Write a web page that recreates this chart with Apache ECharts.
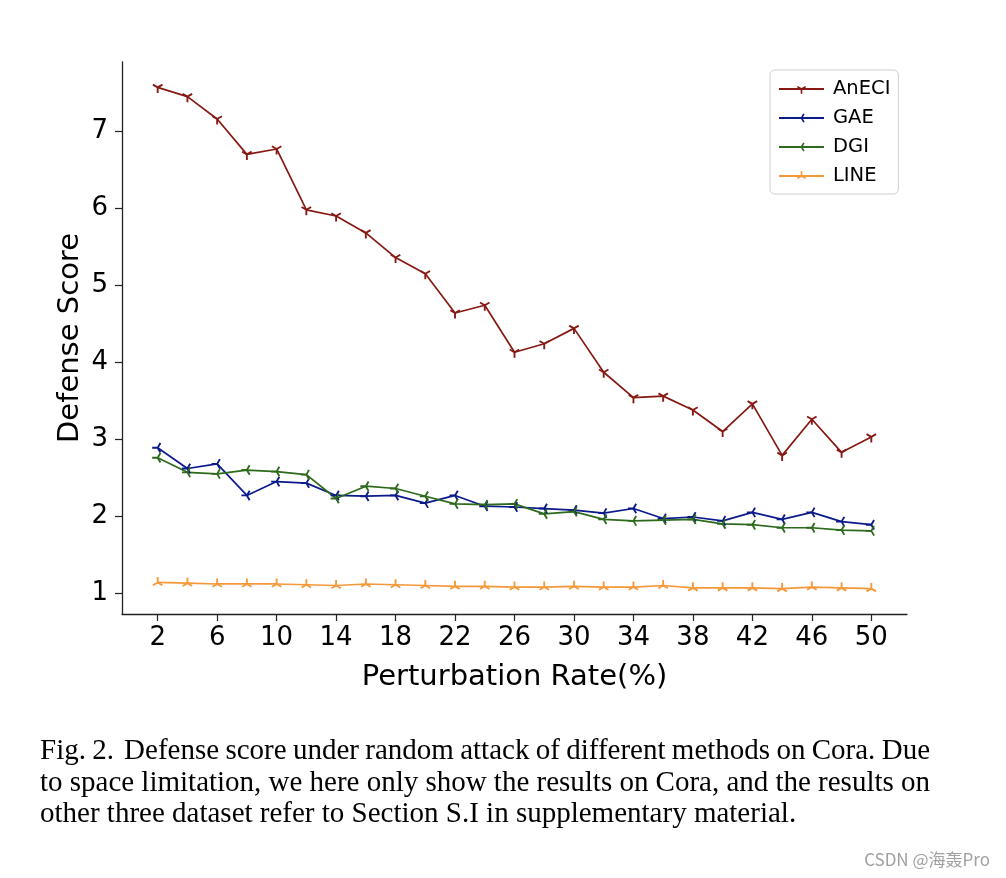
<!DOCTYPE html>
<html>
<head>
<meta charset="utf-8">
<script src="https://cdn.jsdelivr.net/npm/echarts@6/dist/echarts.min.js"></script>
<style>
html,body{margin:0;padding:0;background:#fff;}
#chart{width:1006px;height:878px;}
</style>
</head>
<body>
<div id="chart"></div>
<script>
// ---- data ----
var rates = [2,4,6,8,10,12,14,16,18,20,22,24,26,28,30,32,34,36,38,40,42,44,46,48,50];
var aneci = [7.57,7.45,7.16,6.70,6.77,5.98,5.90,5.68,5.36,5.15,4.64,4.74,4.13,4.24,4.44,3.87,3.54,3.56,3.38,3.10,3.46,2.79,3.26,2.83,3.03];
var gae   = [2.89,2.62,2.68,2.27,2.45,2.43,2.27,2.26,2.27,2.17,2.27,2.13,2.12,2.10,2.08,2.04,2.10,1.97,1.99,1.94,2.05,1.96,2.05,1.93,1.89];
var dgi   = [2.76,2.57,2.55,2.60,2.58,2.54,2.23,2.39,2.36,2.26,2.16,2.15,2.16,2.03,2.06,1.96,1.94,1.95,1.96,1.90,1.89,1.85,1.85,1.82,1.81];
var line  = [1.14,1.13,1.12,1.12,1.12,1.11,1.10,1.12,1.11,1.10,1.09,1.09,1.08,1.08,1.09,1.08,1.08,1.10,1.07,1.07,1.07,1.06,1.08,1.07,1.06];
var seriesNames = ['AnECI','GAE','DGI','LINE'];
var xTicks = [2,6,10,14,18,22,26,30,34,38,42,46,50];
var yTicks = [1,2,3,4,5,6,7];
var captionLines = [
  'Fig. 2.  Defense score under random attack of different methods on Cora. Due',
  'to space limitation, we here only show the results on Cora, and the results on',
  'other three dataset refer to Section S.I in supplementary material.'
];

// ---- marker shapes (matplotlib-like tri markers) ----
function triPath(dirs){
  var w = 0.17, s = '';
  dirs.forEach(function(d){
    var dx = d[0], dy = d[1], nx = -dy*w, ny = dx*w;
    s += 'M'+nx.toFixed(3)+' '+ny.toFixed(3)+
         'L'+(dx+nx).toFixed(3)+' '+(dy+ny).toFixed(3)+
         'L'+(dx-nx).toFixed(3)+' '+(dy-ny).toFixed(3)+
         'L'+(-nx).toFixed(3)+' '+(-ny).toFixed(3)+'Z';
  });
  s += 'M-1 -1L-1 -1ZM1 1L1 1Z';
  return 'path://' + s;
}
var c = 0.866;
var triDown = triPath([[0,1],[-c,-0.5],[c,-0.5]]);
var triLeft = triPath([[-1,0],[0.5,-c],[0.5,c]]);
var triUp   = triPath([[0,-1],[-c,0.5],[c,0.5]]);

var colors = ['#861a13','#0b1a8b','#2d6a1c','#f5983a'];
var symbols = [triDown, triLeft, triLeft, triUp];
var values = [aneci, gae, dgi, line];

function pairs(v){ return rates.map(function(r,i){ return [r, v[i]]; }); }

var series = seriesNames.map(function(n, k){
  return {
    name: n, type: 'line', data: pairs(values[k]),
    symbol: symbols[k], symbolSize: 11, showAllSymbol: true,
    lineStyle: {color: colors[k], width: 1.7},
    itemStyle: {color: colors[k]},
    emphasis: {disabled: true},
    animation: false
  };
});

// ---- caption (justified first two lines, like the paper) ----
var capSize = 29, capLeft = 40, capWidth = 890, capTop = 737, capStep = 31.5;
var ctx = document.createElement('canvas').getContext('2d');
ctx.font = capSize + 'px "Liberation Serif"';
var captionGraphics = [];
captionLines.forEach(function(t, i){
  var y = capTop + i*capStep;
  if (i < captionLines.length - 1) {
    var tokens = t.split(' ');
    var words = [], gapsBefore = [], extra = 0;
    tokens.forEach(function(tk){
      if (tk === '') { extra += 0.6; return; }
      gapsBefore.push(words.length ? 1 + extra : 0);
      words.push(tk); extra = 0;
    });
    var widths = words.map(function(w){ return ctx.measureText(w).width; });
    var total = widths.reduce(function(a,b){ return a+b; }, 0);
    var units = gapsBefore.reduce(function(a,b){ return a+b; }, 0);
    var gap = (capWidth - total) / units;
    var x = capLeft;
    words.forEach(function(w, j){
      x += gapsBefore[j] * gap;
      captionGraphics.push({type:'text', x: x, y: y,
        style:{text: w, fontFamily:'Liberation Serif', fontSize: capSize, fill:'#000'}});
      x += widths[j];
    });
  } else {
    captionGraphics.push({type:'text', x: capLeft, y: y,
      style:{text: t, fontFamily:'Liberation Serif', fontSize: capSize, fill:'#000'}});
  }
});

var chart = echarts.init(document.getElementById('chart'), null, {renderer:'canvas'});
chart.setOption({
  backgroundColor: '#fff',
  animation: false,
  grid: {left: 122, right: 99, top: 62, bottom: 264, containLabel: false},
  xAxis: {
    type: 'value', min: -0.4, max: 52.4,
    name: 'Perturbation Rate(%)', nameLocation: 'middle', nameGap: 49, nameMoveOverlap: false,
    nameTextStyle: {fontFamily: 'DejaVu Sans', fontSize: 29, color: '#000'},
    axisLine: {onZero: false, lineStyle: {color: '#222', width: 1.3}},
    axisTick: {show: true, length: 7, customValues: xTicks, lineStyle: {color: '#222', width: 1.2}},
    axisLabel: {customValues: xTicks, margin: 11, fontFamily: 'DejaVu Sans', fontSize: 26, color: '#000'},
    splitLine: {show: false}
  },
  yAxis: {
    type: 'value', min: 0.73, max: 7.9,
    name: 'Defense Score', nameLocation: 'middle', nameGap: 37, nameRotate: 90, nameMoveOverlap: false,
    nameTextStyle: {fontFamily: 'DejaVu Sans', fontSize: 29, color: '#000'},
    axisLine: {show: true, onZero: false, lineStyle: {color: '#222', width: 1.3}},
    axisTick: {show: true, length: 7, customValues: yTicks, lineStyle: {color: '#222', width: 1.2}},
    axisLabel: {customValues: yTicks, margin: 14, fontFamily: 'DejaVu Sans', fontSize: 26, color: '#000'},
    splitLine: {show: false}
  },
  legend: {
    orient: 'vertical', left: 770, top: 70,
    data: seriesNames,
    itemWidth: 45, itemHeight: 12, itemGap: 9,
    padding: [9, 8, 8, 8],
    borderColor: '#d0d0d0', borderWidth: 1, borderRadius: 5,
    backgroundColor: 'rgba(255,255,255,0.8)',
    textStyle: {fontFamily: 'DejaVu Sans', fontSize: 19.5, color: '#000', lineHeight: 19.5, padding: [0,0,0,4]},
    selectedMode: false
  },
  series: series,
  graphic: captionGraphics.concat([{
    type: 'text', right: 16, top: 851,
    style: {text: 'CSDN @海轰Pro', fontFamily: 'Noto Sans CJK SC', fontSize: 17, fill: '#a0a0a0'}
  }])
});
</script>
</body>
</html>
